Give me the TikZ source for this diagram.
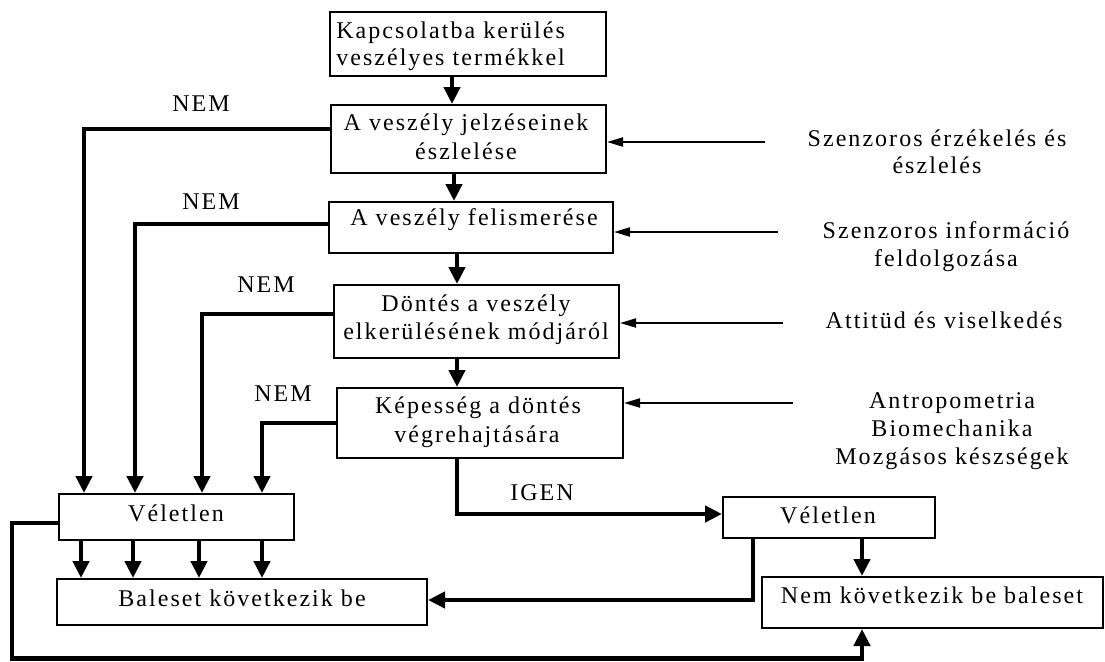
\documentclass[tikz,border=0pt]{standalone}
\usepackage{fontspec}
\setmainfont{Liberation Serif}[LetterSpace=8.5]
\usetikzlibrary{arrows.meta,fit}
\begin{document}
\begin{tikzpicture}[x=0.75pt,y=-0.75pt,
  box/.style={draw, line width=1.5pt, inner sep=0pt},
  txt/.style={inner sep=0pt, anchor=base, font=\fontsize{18pt}{21pt}\selectfont},
  ar/.style={line width=3.4pt, -{Triangle[length=12.75pt,width=12pt]}},
  tar/.style={line width=1.5pt, -{Triangle[length=12pt,width=6.75pt]}}]
\useasboundingbox (0,0) rectangle (1105,661);
% boxes
\node[box, fit={(330,12) (606,76)}] (b1) {};
\node[box, fit={(331,105) (606,173)}] (b2) {};
\node[box, fit={(329,202) (613,253)}] (b3) {};
\node[box, fit={(334,285) (619,358)}] (b4) {};
\node[box, fit={(337,388) (623,458)}] (b5) {};
\node[box, fit={(59,494) (294,540)}] (v1) {};
\node[box, fit={(57,579) (427,625)}] (bal) {};
\node[box, fit={(723,497) (935,538)}] (v2) {};
\node[box, fit={(762,577) (1103,628)}] (nem) {};
% box texts
\node[txt, anchor=base west] (t1a) at (336,38) {Kapcsolatba kerülés};
\node[txt, anchor=base west] (t1b) at (336,65) {veszélyes termékkel};
\node[txt] (t2a) at (466,130) {A veszély jelzéseinek};
\node[txt] (t2b) at (466,159) {észlelése};
\node[txt] (t3) at (474,225) {A veszély felismerése};
\node[txt] (t4a) at (476,311) {Döntés a veszély};
\node[txt] (t4b) at (476,339) {elkerülésének módjáról};
\node[txt] (t5a) at (478,413) {Képesség a döntés};
\node[txt] (t5b) at (477,442) {végrehajtására};
\node[txt] (tv1) at (176,521) {Véletlen};
\node[txt] (tbal) at (242,606) {Baleset következik be};
\node[txt] (tv2) at (828,523) {Véletlen};
\node[txt] (tnem) at (932,603) {Nem következik be baleset};
% labels
\node[txt] (nem1) at (201,111) {NEM};
\node[txt] (nem2) at (211,209) {NEM};
\node[txt] (nem3) at (266,292) {NEM};
\node[txt] (nem4) at (283,401) {NEM};
\node[txt] (igen) at (542,500) {IGEN};
\node[txt] (r1a) at (937,146) {Szenzoros érzékelés és};
\node[txt] (r1b) at (937,173) {észlelés};
\node[txt] (r2a) at (946,238) {Szenzoros információ};
\node[txt] (r2b) at (946,266) {feldolgozása};
\node[txt] (r3) at (944,328) {Attitüd és viselkedés};
\node[txt] (r4a) at (952,408) {Antropometria};
\node[txt] (r4b) at (952,436) {Biomechanika};
\node[txt] (r4c) at (952,464) {Mozgásos készségek};
% main chain
\coordinate (xa) at (452,0);
\coordinate (xb) at (454,0);
\coordinate (xc) at (457,0);
\draw[ar] (b1.south -| xa) -- (b2.north -| xa);
\draw[ar] (b2.south -| xb) -- (b3.north -| xb);
\draw[ar] (b3.south -| xc) -- (b4.north -| xc);
\draw[ar] (b4.south -| xc) -- (b5.north -| xc);
% NEM branches
\coordinate (n1) at (84,129);
\coordinate (n2) at (135,224);
\coordinate (n3) at (202,314);
\coordinate (n4) at (262,423);
\draw[ar] (b2.west |- n1) -- (n1) -- (v1.north -| n1);
\draw[ar] (b3.west |- n2) -- (n2) -- (v1.north -| n2);
\draw[ar] (b4.west |- n3) -- (n3) -- (v1.north -| n3);
\draw[ar] (b5.west |- n4) -- (n4) -- (v1.north -| n4);
% Veletlen -> Baleset
\coordinate (d1) at (81,0);
\coordinate (d2) at (133,0);
\coordinate (d3) at (199,0);
\coordinate (d4) at (262,0);
\foreach \d in {d1,d2,d3,d4}{\draw[ar] (v1.south -| \d) -- (bal.north -| \d);}
% loop to Nem
\coordinate (l1) at (12,523);
\coordinate (l2) at (12,658.5);
\coordinate (l3) at (862,658.5);
\draw[ar] (v1.west |- l1) -- (l1) -- (l2) -- (l3) -- (nem.south -| l3);
% IGEN
\coordinate (g1) at (457,514);
\draw[ar] (b5.south -| g1) -- (g1) -- (v2.west |- g1);
\draw[ar] (v2.south -| l3) -- (nem.north -| l3);
\coordinate (q1) at (753,600);
\draw[ar] (v2.south -| q1) -- (q1) -- (bal.east |- q1);
% thin inputs
\coordinate (s1) at (765,142);
\coordinate (s2) at (778,232);
\coordinate (s3) at (783,323);
\coordinate (s4) at (793,403);
\draw[tar] (s1) -- (b2.east |- s1);
\draw[tar] (s2) -- (b3.east |- s2);
\draw[tar] (s3) -- (b4.east |- s3);
\draw[tar] (s4) -- (b5.east |- s4);
\end{tikzpicture}
\end{document}
